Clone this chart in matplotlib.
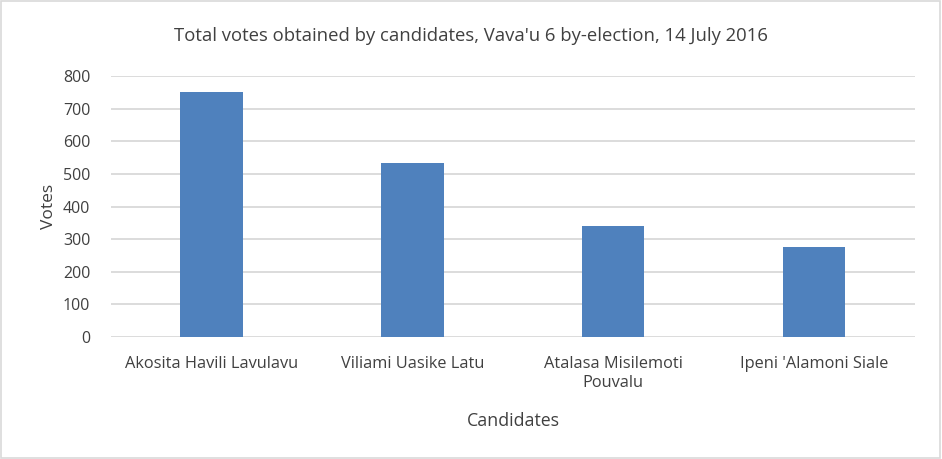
import matplotlib.pyplot as plt
import numpy as np

# --- Data ---
candidates = ["Akosita Havili Lavulavu", "Viliami Uasike Latu",
              "Atalasa Misilemoti\nPouvalu", "Ipeni 'Alamoni Siale"]
votes = [753, 533, 340, 276]
yticks = [0, 100, 200, 300, 400, 500, 600, 700, 800]

TEXT = "#404040"
plt.rcParams['font.family'] = ['Open Sans', 'DejaVu Sans']

fig = plt.figure(figsize=(9.42, 4.59), dpi=100)
ax = fig.add_axes([0.118, 0.266, 0.853, 0.568])

x = np.arange(len(candidates))
ax.bar(x, votes, width=0.31, color="#4f81bd", zorder=3)

ax.set_xlim(-0.5, len(candidates) - 0.5)
ax.set_ylim(0, 800)
ax.set_yticks(yticks)
ax.set_xticks(x)
ax.set_xticklabels(candidates, fontsize=11.8, color=TEXT, linespacing=1.25)
ax.tick_params(axis='y', labelsize=11.5, labelcolor=TEXT, length=0, pad=15)
ax.tick_params(axis='x', length=0, pad=14)
ax.grid(axis='y', color="#d9d9d9", linewidth=1.3, zorder=0)
for s in ax.spines.values():
    s.set_visible(False)

ax.set_ylabel("Votes", fontsize=12.5, color=TEXT, labelpad=4)
ax.set_xlabel("Candidates", fontsize=12.8, color=TEXT, labelpad=15)
fig.text(0.5, 0.922, "Total votes obtained by candidates, Vava'u 6 by-election, 14 July 2016",
         ha='center', va='center', fontsize=13.3, color=TEXT)

# light frame around the figure
fig.patches.append(plt.Rectangle((0.001, 0.002), 0.997, 0.996, transform=fig.transFigure,
                                 fill=False, edgecolor="#d9d9d9", linewidth=1.2))

fig.savefig("out.png", dpi=100)
